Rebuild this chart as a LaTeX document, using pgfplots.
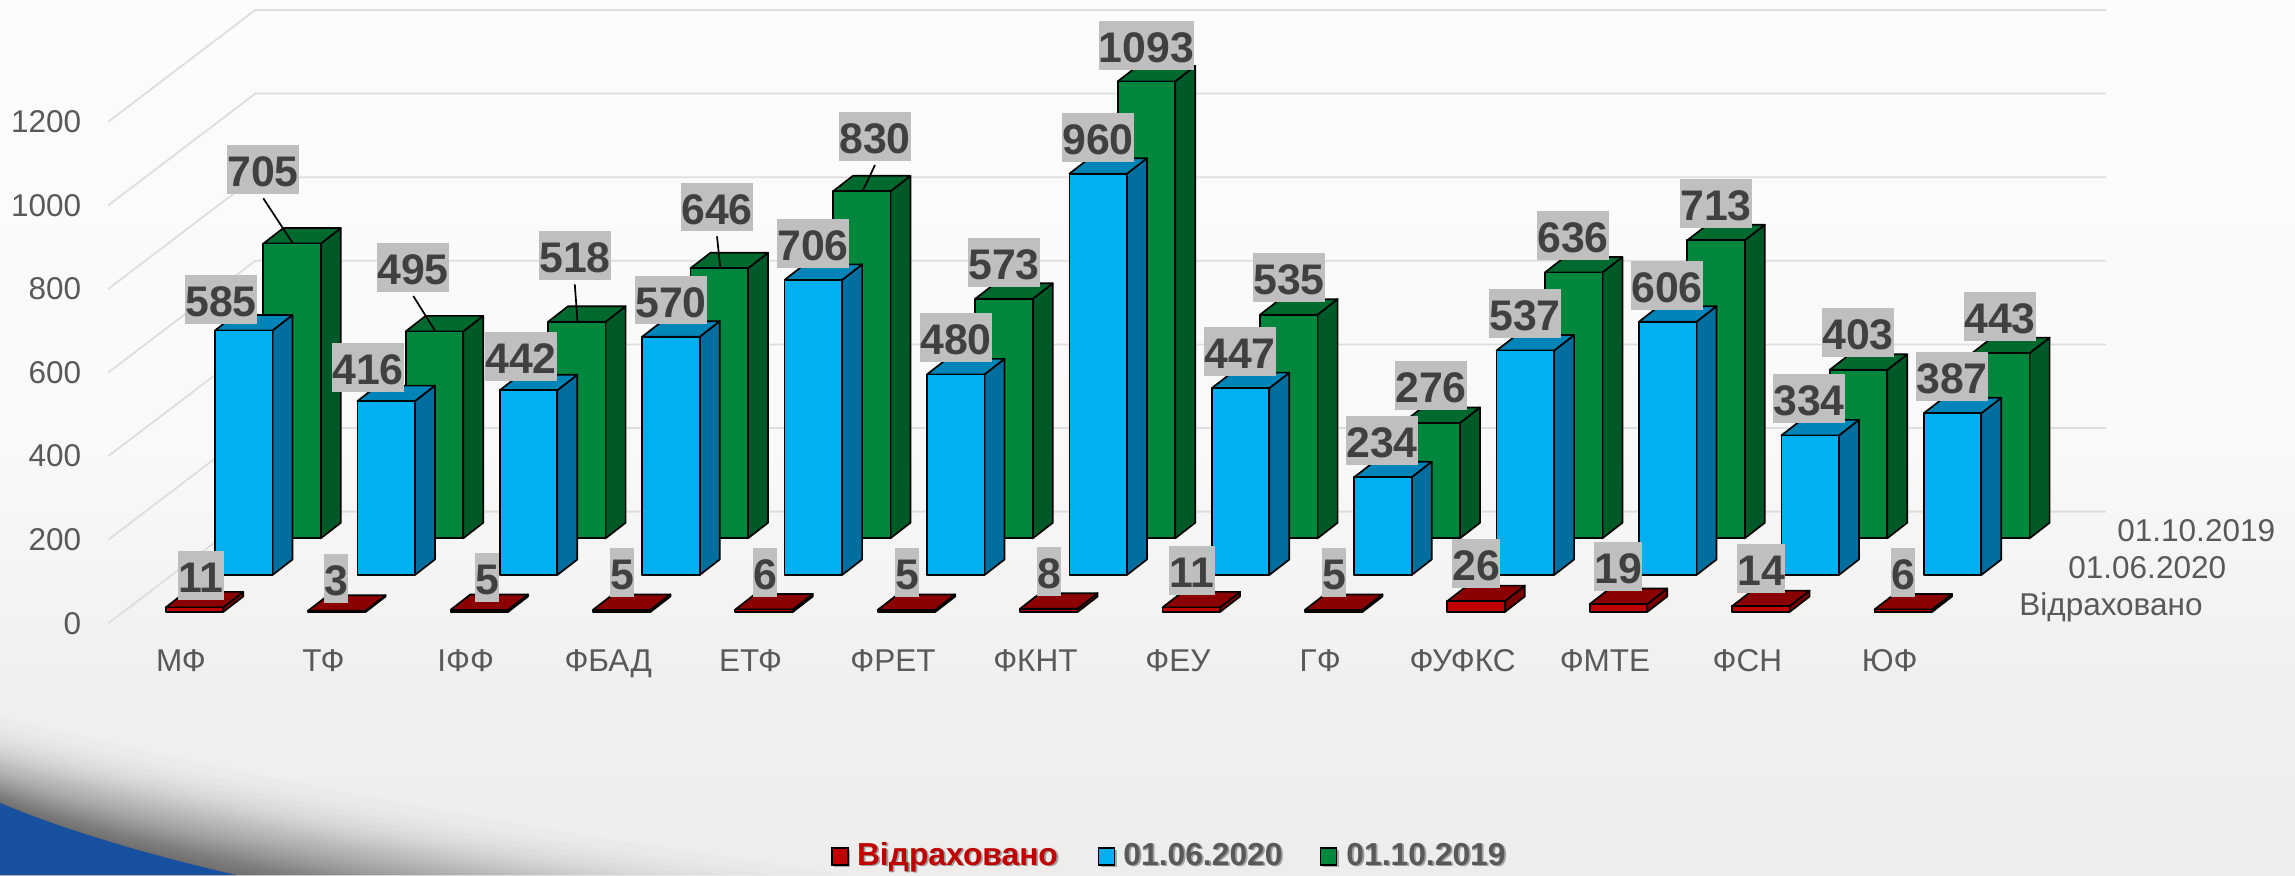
\documentclass[border=0pt]{standalone}
\usepackage{fontspec}
\setmainfont{Liberation Sans}
\usepackage{pgfplots}
\pgfplotsset{compat=1.18}
\usepackage{pgfplotstable}

\definecolor{txt}{HTML}{595959}
\definecolor{lab}{HTML}{404040}
\definecolor{labbg}{HTML}{BFBFBF}
\definecolor{gridc}{HTML}{DEDEDE}
\definecolor{rf}{HTML}{C00000}
\definecolor{rt}{HTML}{8B0000}
\definecolor{rs}{HTML}{7A0000}
\definecolor{bf}{HTML}{00B0F0}
\definecolor{bt}{HTML}{0085B8}
\definecolor{bs}{HTML}{006F9F}
\definecolor{gf}{HTML}{00863D}
\definecolor{gt}{HTML}{006A2E}
\definecolor{gs}{HTML}{005A28}
\definecolor{swoosh}{HTML}{17509F}
\definecolor{bga}{HTML}{FCFCFC}
\definecolor{bgb}{HTML}{F9F9F9}
\definecolor{bgc}{HTML}{F1F0EE}
\definecolor{bgd}{HTML}{EEEDEB}

\pgfplotstableread{
i red blue green
0 11 585 705
1 3 416 495
2 5 442 518
3 5 570 646
4 6 706 830
5 5 480 573
6 8 960 1093
7 11 447 535
8 5 234 276
9 26 537 636
10 19 606 713
11 14 334 403
12 6 387 443
}\datatable

\pgfdeclareplotmark{nothing}{}
\def\bw{57.5}\def\bdx{20}\def\bdy{15.5}
% #1 left offset from the category (px), #2 rise of the plane (px), #3 front, #4 side, #5 top
\pgfplotsset{bar3d/.style n args={5}{
  only marks, scatter, mark=nothing,
  visualization depends on=rawy\as\val,
  scatter/@pre marker code/.code={%
    \pgfmathsetmacro\hh{\val*0.418}%
    \begin{scope}[x=.5pt,y=.5pt,line width=.85pt,draw=black,line join=round]
      \filldraw[fill=#4] ({#1+\bw},{#2-\hh}) -- ++(\bdx,\bdy) -- ({#1+\bw+\bdx},{#2+\bdy}) -- ({#1+\bw},#2) -- cycle;
      \filldraw[fill=#5] (#1,#2) -- ++(\bdx,\bdy) -- ++(\bw,0) -- ({#1+\bw},#2) -- cycle;
      \filldraw[fill=#3] (#1,{#2-\hh}) rectangle ({#1+\bw},#2);
    \end{scope}
  },
  scatter/@post marker code/.code={},
}}

\tikzset{
  vlab/.style={fill=labbg,text=lab,inner xsep=0pt,inner ysep=0pt,minimum height=24.35pt,
    text height=17pt,text depth=0pt,font=\fontsize{21.4}{24}\selectfont\bfseries},
  lead/.style={black,line width=.85pt},
  sername/.style={anchor=base west,text=txt,inner sep=0pt,font=\fontsize{15.75}{18}\selectfont},
  legt/.style={anchor=base west,inner sep=0pt,font=\fontsize{15.9}{18}\selectfont\bfseries},
  legb/.style={draw=black,line width=.7pt},
}
\newcommand\vl[3]{\node[vlab] at (#1,#2) {#3};}

\begin{document}
\begin{tikzpicture}
\begin{scope}[x=.5pt,y=-.5pt]
  \shade[top color=bga,bottom color=bgb] (0,0) rectangle (2295,450.5);
  \shade[top color=bgb,bottom color=bgc] (0,450) rectangle (2295,680.5);
  \shade[top color=bgc,bottom color=bgd] (0,680) rectangle (2295,875);
  \foreach \k in {1,...,40}{
    \pgfmathsetmacro\t{\k/40.5}
    \pgfmathsetmacro\q{1-(1-\t)^(0.385)}
    \pgfmathsetmacro\yo{803-106*\q}
    \pgfmathsetmacro\xo{236+750*\q}
    \fill[black,opacity=.0162]
      (0,\yo) .. controls ({\xo*.3},{\yo+(875-\yo)*.4}) and ({\xo*.63},{\yo+(875-\yo)*.72}) .. (\xo,875) -- (0,875) -- cycle;
  }
  \fill[swoosh] (0,803) .. controls (70,832) and (150,855) .. (236,875) -- (0,875) -- cycle;
\end{scope}

\begin{axis}[
  at={(0,0)},anchor=north west,
  scale only axis,width=1147.5pt,height=437.5pt,
  xmin=-1.2711,xmax=14.8455,
  ymin=-602.2,ymax=1491.1,
  clip=false,
  axis line style={draw=none},
  major tick length=0pt,
  tick style={draw=none},
  xtick={0,...,12},
  xticklabels={МФ,ТФ,ІФФ,ФБАД,ЕТФ,ФРЕТ,ФКНТ,ФЕУ,ГФ,ФУФКС,ФМТЕ,ФСН,ЮФ},
  ytick={0,200,400,600,800,1000,1200},
  yticklabels={0,200,400,600,800,1000,1200},
  xtick pos=bottom,ytick pos=left,
  xticklabel style={anchor=base,yshift=101.65pt,text=txt,font=\fontsize{15.75}{18}\selectfont,inner sep=0pt},
  yticklabel style={anchor=east,xshift=40.75pt,text=txt,font=\fontsize{15.75}{18}\selectfont,inner sep=0pt},
]
\addplot[gridc,line width=.9pt] coordinates {(-0.5105,0) (0.5218,267.2) (13.518,267.2)};
\addplot[gridc,line width=.9pt] coordinates {(-0.5105,200) (0.5218,467.2) (13.518,467.2)};
\addplot[gridc,line width=.9pt] coordinates {(-0.5105,400) (0.5218,667.2) (13.518,667.2)};
\addplot[gridc,line width=.9pt] coordinates {(-0.5105,600) (0.5218,867.2) (13.518,867.2)};
\addplot[gridc,line width=.9pt] coordinates {(-0.5105,800) (0.5218,1067.2) (13.518,1067.2)};
\addplot[gridc,line width=.9pt] coordinates {(-0.5105,1000) (0.5218,1267.2) (13.518,1267.2)};
\addplot[gridc,line width=.9pt] coordinates {(-0.5105,1200) (0.5218,1467.2) (13.518,1467.2)};
\addplot[bar3d={82.3}{85}{gf}{gs}{gt}] table[x=i,y=green] {\datatable};
\addplot[bar3d={34}{48.3}{bf}{bs}{bt}] table[x=i,y=blue] {\datatable};
\addplot[bar3d={-15.3}{11.3}{rf}{rs}{rt}] table[x=i,y=red] {\datatable};
\end{axis}

\begin{scope}[x=.5pt,y=-.5pt]
  % leader lines
  \draw[lead] (263.3,198.3) -- (292.8,243.3);
  \draw[lead] (413.3,296) -- (435,330.7);
  \draw[lead] (574.8,284.3) -- (577.5,321.7);
  \draw[lead] (717,236.3) -- (720.3,268);
  \draw[lead] (875,165) -- (862.7,191);
  % data labels: green
  \vl{263}{169.5}{705}\vl{413}{267.5}{495}\vl{575}{255.5}{518}\vl{717}{207}{646}
  \vl{875}{136.5}{830}\vl{1004}{262.3}{573}\vl{1146.5}{45.5}{1093}\vl{1289}{277.3}{535}
  \vl{1431}{385.3}{276}\vl{1573}{235.3}{636}\vl{1716}{203.3}{713}\vl{1858}{332.3}{403}\vl{2000}{316.5}{443}
  % data labels: blue
  \vl{221}{299.5}{585}\vl{368}{367.5}{416}\vl{521}{356.5}{442}\vl{671}{300}{570}
  \vl{813}{243.3}{706}\vl{956}{337.3}{480}\vl{1098}{137.5}{960}\vl{1240}{351.3}{447}
  \vl{1382}{440.3}{234}\vl{1525}{313.3}{537}\vl{1667}{285.3}{606}\vl{1809}{398.3}{334}\vl{1952}{376.5}{387}
  % data labels: red
  \vl{201}{575.5}{11}\vl{336}{578.5}{3}\vl{487}{577.5}{5}\vl{622}{572.3}{5}\vl{765}{572.3}{6}
  \vl{907}{572.3}{5}\vl{1049}{571.3}{8}\vl{1192}{570.3}{11}\vl{1334}{572.3}{5}\vl{1476}{563.3}{26}
  \vl{1618}{566.3}{19}\vl{1761}{568.3}{14}\vl{1903}{572.5}{6}
  % series names on the depth axis
  \node[sername] at (2117,541.7) {01.10.2019};
  \node[sername] at (2068,578.3) {01.06.2020};
  \node[sername] at (2019,615) {Відраховано};
  % legend
  \fill[black!35] (834,850) rectangle (850,867);
  \fill[black!35] (1100.5,850) rectangle (1116.5,867);
  \fill[black!35] (1322.5,850) rectangle (1338.5,867);
  \filldraw[legb,fill=rf] (832,848) rectangle (848,865);
  \filldraw[legb,fill=bf] (1098.5,848) rectangle (1114.5,865);
  \filldraw[legb,fill=gf] (1320.5,848) rectangle (1336.5,865);
  \node[legt,text=black!38] at (858.4,866.6) {Відраховано};
  \node[legt,text=rf] at (856.6,865) {Відраховано};
  \node[legt,text=black!38] at (1124.8,866.6) {01.06.2020};
  \node[legt,text=txt] at (1123,865) {01.06.2020};
  \node[legt,text=black!38] at (1347.8,866.6) {01.10.2019};
  \node[legt,text=txt] at (1346,865) {01.10.2019};
\end{scope}
\end{tikzpicture}
\end{document}
